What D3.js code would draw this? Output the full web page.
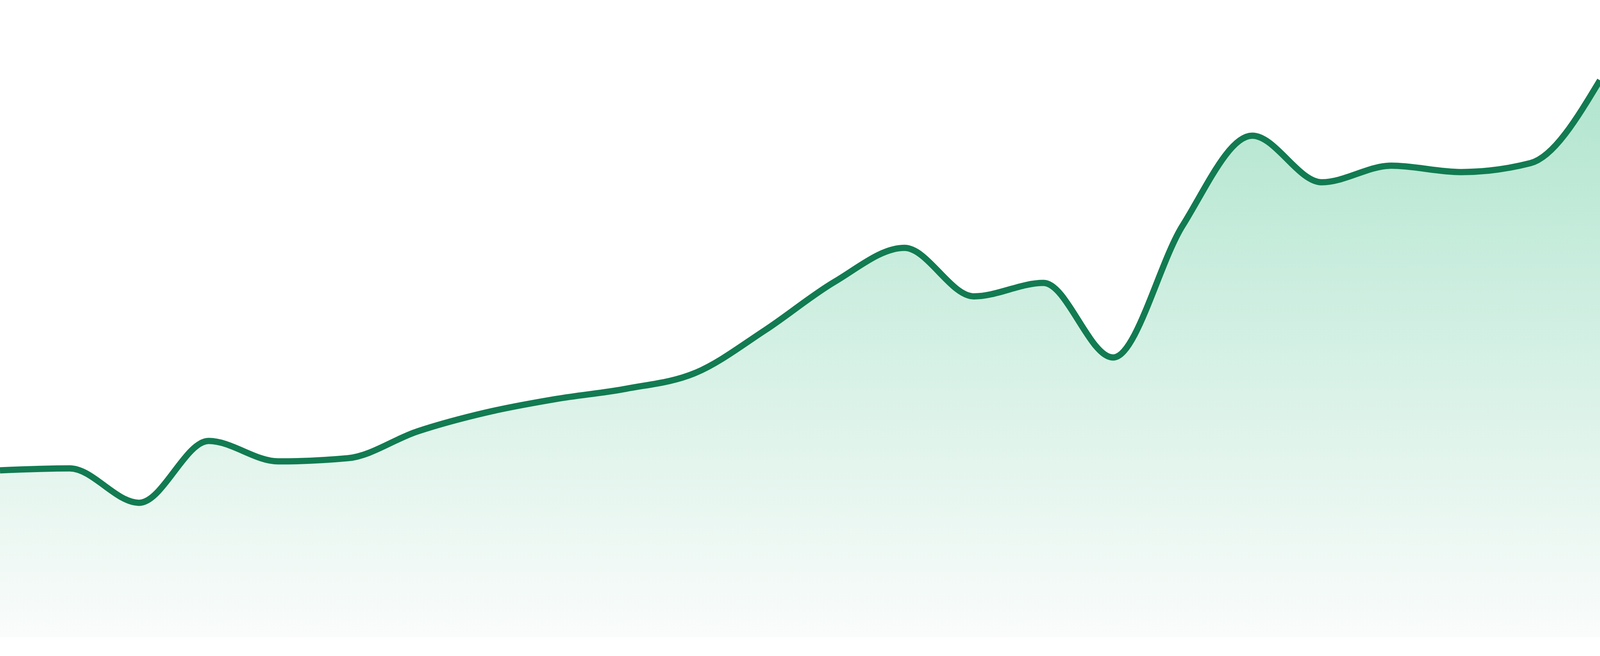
<!DOCTYPE html>
<html lang="en">
<head>
    <meta charset="UTF-8">
    <title>Area trend</title>
    <!-- Load d3.js -->
    <script src="https://d3js.org/d3.v7.min.js"></script>
    <style>
        html, body { margin: 0; padding: 0; background: #ffffff; overflow: hidden; }
        svg { display: block; }
    </style>
</head>
<body>

<!-- Create a div where the graph will take place -->
<div id="my_dataviz"></div>
    <script>

        // sample index along the x axis (no labels shown in the chart)
        var steps = [0, 1, 2, 3, 4, 5, 6, 7, 8, 9, 10, 11,
                     12, 13, 14, 15, 16, 17, 18, 19, 20, 21, 22, 23];

        // values (0 - 100 scale)
        var values = [26.2, 26.5, 21.1, 30.8, 27.6, 28.1, 32.3, 35.3,
                      37.4, 39.0, 41.5, 48.2, 55.8, 61.1, 53.5, 55.6,
                      43.9, 64.6, 78.7, 71.4, 74.0, 73.0, 74.4, 87.4];

        var data = steps.map(function(s, i) { return {step: s, value: values[i]}; });

        // fill the visible window
        var fullW = window.innerWidth || 4800,
            fullH = window.innerHeight || 1680;

        // set the dimensions and margins of the graph
        var margin = {top: 0, right: 0, bottom: fullH * 48 / 1680, left: 0},
            width = fullW - margin.left - margin.right,
            height = fullH - margin.top - margin.bottom;

        // append the svg object to the body of the page
        var root = d3.select("#my_dataviz")
            .append("svg")
            .attr("width", fullW)
            .attr("height", fullH);

        var svg = root.append("g")
            .attr("transform", "translate(" + margin.left + "," + margin.top + ")");

        // X scale
        var x = d3.scaleLinear()
            .domain(d3.extent(steps))
            .range([0, width]);

        // Y scale
        var y = d3.scaleLinear()
            .domain([0, 100])
            .range([height, 0]);

        // gradient for the area
        var grad = root.append("defs")
            .append("linearGradient")
            .attr("id", "areaFill")
            .attr("gradientUnits", "userSpaceOnUse")
            .attr("x1", 0).attr("x2", 0)
            .attr("y1", y(d3.max(values))).attr("y2", height);
        grad.append("stop").attr("offset", "0%").attr("stop-color", "#b1e5cf");
        grad.append("stop").attr("offset", "100%").attr("stop-color", "#fafcfb");

        var area = d3.area()
            .x(function(d) { return x(d.step); })
            .y0(height)
            .y1(function(d) { return y(d.value); })
            .curve(d3.curveMonotoneX);

        var line = d3.line()
            .x(function(d) { return x(d.step); })
            .y(function(d) { return y(d.value); })
            .curve(d3.curveMonotoneX);

        svg.append("path")
            .datum(data)
            .attr("fill", "url(#areaFill)")
            .attr("d", area);

        svg.append("path")
            .datum(data)
            .attr("fill", "none")
            .attr("stroke", "#127b52")
            .attr("stroke-width", 16)
            .attr("stroke-linejoin", "round")
            .attr("d", line);

    </script>

</body>
</html>
